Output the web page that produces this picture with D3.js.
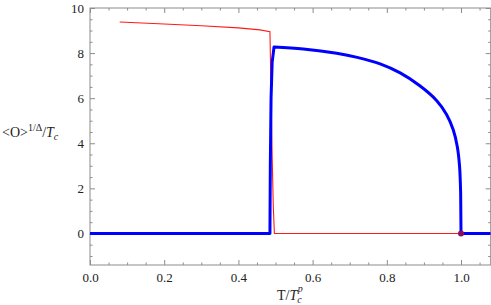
<!DOCTYPE html>
<html>
<head>
<meta charset="utf-8">
<script src="https://cdn.jsdelivr.net/npm/d3@7/dist/d3.min.js"></script>
<style>
body{margin:0;background:#fff;}
svg text{font-family:"Liberation Serif","Times New Roman",serif;}
</style>
</head>
<body>
<svg id="chart" width="491" height="305"></svg>
<script>
// data
const xTicks = [0.0, 0.2, 0.4, 0.6, 0.8, 1.0];
const xTickLabels = ["0.0", "0.2", "0.4", "0.6", "0.8", "1.0"];
const yTicks = [0, 2, 4, 6, 8, 10];
const yTickLabels = ["0", "2", "4", "6", "8", "10"];

const redX = [0.08, 0.2, 0.3, 0.4, 0.458, 0.485, 0.488, 0.491, 0.494, 0.497, 0.6, 0.8, 1.0, 1.08];
const redY = [9.38, 9.29, 9.21, 9.12, 9.03, 8.95, 6.2, 3.4, 1.2, 0, 0, 0, 0, 0];

// blue branch: flat + jump, smooth tail, flat
const blueJumpX = [0.0, 0.2, 0.4, 0.485, 0.486, 0.488, 0.491, 0.496];
const blueJumpY = [0, 0, 0, 0, 3.0, 6.0, 7.6, 8.27];
const blueTailX = [0.496, 0.575, 0.665, 0.72, 0.782, 0.836, 0.889, 0.934, 0.961, 0.979, 0.990, 0.996, 0.999];
const blueTailY = [8.27, 8.18, 7.99, 7.81, 7.52, 7.12, 6.55, 5.90, 5.28, 4.60, 3.85, 3.00, 1.80];
const blueEndX = [0.999, 1.0, 1.04, 1.08];
const blueEndY = [1.80, 0, 0, 0];

const pointX = [1.0];
const pointY = [0];

const FONT = '"Liberation Serif","Times New Roman",serif';
const svg = d3.select("#chart");
const L = 90, R = 490.7, T = 8, B = 265;
const x = d3.scaleLinear().domain([0, 1.08]).range([L, R]);
const y = d3.scaleLinear().domain([-1.4, 10]).range([B, T]);

const axisCol = "#8c8c8c";

svg.append("defs").append("clipPath").attr("id", "clip")
  .append("rect").attr("x", L).attr("y", T).attr("width", R - L).attr("height", B - T);

const minorX = d3.range(0, 1.0801, 0.05).filter(v => Math.abs(v * 5 - Math.round(v * 5)) > 1e-6);
const minorY = d3.range(-1, 10.001, 0.5).filter(v => Math.abs(v / 2 - Math.round(v / 2)) > 1e-6);

function styleAxis(g) {
  g.attr("font-family", FONT);
  g.select(".domain").remove();
  g.selectAll(".tick line").attr("stroke", axisCol);
  g.selectAll(".tick text").attr("fill", "#222").attr("font-size", 13);
}

svg.append("g").attr("transform", `translate(0,${B})`)
  .call(d3.axisBottom(x).tickValues(xTicks).tickFormat((d, i) => xTickLabels[i]).tickSizeInner(-5).tickSizeOuter(0).tickPadding(8))
  .call(styleAxis);
svg.append("g").attr("transform", `translate(0,${B})`)
  .call(d3.axisBottom(x).tickValues(minorX).tickFormat("").tickSizeInner(-2.5).tickSizeOuter(0))
  .call(styleAxis);
svg.append("g").attr("transform", `translate(0,${T})`)
  .call(d3.axisTop(x).tickValues(xTicks).tickFormat("").tickSizeInner(-5).tickSizeOuter(0))
  .call(styleAxis);
svg.append("g").attr("transform", `translate(0,${T})`)
  .call(d3.axisTop(x).tickValues(minorX).tickFormat("").tickSizeInner(-2.5).tickSizeOuter(0))
  .call(styleAxis);
svg.append("g").attr("transform", `translate(${L},0)`)
  .call(d3.axisLeft(y).tickValues(yTicks).tickFormat((d, i) => yTickLabels[i]).tickSizeInner(-5).tickSizeOuter(0).tickPadding(6))
  .call(styleAxis);
svg.append("g").attr("transform", `translate(${L},0)`)
  .call(d3.axisLeft(y).tickValues(minorY).tickFormat("").tickSizeInner(-2.5).tickSizeOuter(0))
  .call(styleAxis);
svg.append("g").attr("transform", `translate(${R},0)`)
  .call(d3.axisRight(y).tickValues(yTicks).tickFormat("").tickSizeInner(-5).tickSizeOuter(0))
  .call(styleAxis);
svg.append("g").attr("transform", `translate(${R},0)`)
  .call(d3.axisRight(y).tickValues(minorY).tickFormat("").tickSizeInner(-2.5).tickSizeOuter(0))
  .call(styleAxis);

svg.append("rect").attr("x", L).attr("y", T).attr("width", R - L).attr("height", B - T)
  .attr("fill", "none").attr("stroke", axisCol).attr("stroke-width", 1);

const plot = svg.append("g").attr("clip-path", "url(#clip)");
const lin = d3.line().x(d => x(d[0])).y(d => y(d[1]));
const smooth = d3.line().x(d => x(d[0])).y(d => y(d[1])).curve(d3.curveCatmullRom.alpha(0.5));
const zip = (a, b) => a.map((v, i) => [v, b[i]]);

plot.append("path").datum(zip(redX, redY))
  .attr("d", lin).attr("fill", "none").attr("stroke", "#ff1a1a").attr("stroke-width", 1.1);

const blueD = lin(zip(blueJumpX, blueJumpY))
  + smooth(zip(blueTailX, blueTailY)).replace(/^M/, "L")
  + lin(zip(blueEndX, blueEndY)).replace(/^M/, "L");
plot.append("path").attr("d", blueD)
  .attr("fill", "none").attr("stroke", "#0000ff").attr("stroke-width", 3)
  .attr("stroke-linejoin", "round");

plot.selectAll("circle").data(zip(pointX, pointY)).enter().append("circle")
  .attr("cx", d => x(d[0])).attr("cy", d => y(d[1])).attr("r", 3).attr("fill", "#8a1060");

const xl = svg.append("text").attr("x", 277).attr("y", 300).attr("fill", "#222")
  .attr("font-size", 14).attr("font-family", FONT);
xl.append("tspan").text("T/");
xl.append("tspan").attr("font-style", "italic").text("T");
xl.append("tspan").attr("font-style", "italic").attr("font-size", 10).attr("dy", 3).text("c");
xl.append("tspan").attr("font-style", "italic").attr("font-size", 10).attr("dx", -4).attr("dy", -11).text("p");

const yl = svg.append("text").attr("x", 2).attr("y", 137).attr("fill", "#222")
  .attr("font-size", 14).attr("font-family", FONT);
yl.append("tspan").text("<O>");
yl.append("tspan").attr("font-size", 10).attr("dy", -6).text("1/Δ");
yl.append("tspan").attr("dy", 6).text("/");
yl.append("tspan").attr("font-style", "italic").text("T");
yl.append("tspan").attr("font-style", "italic").attr("font-size", 10).attr("dy", 3).text("c");
</script>
</body>
</html>
